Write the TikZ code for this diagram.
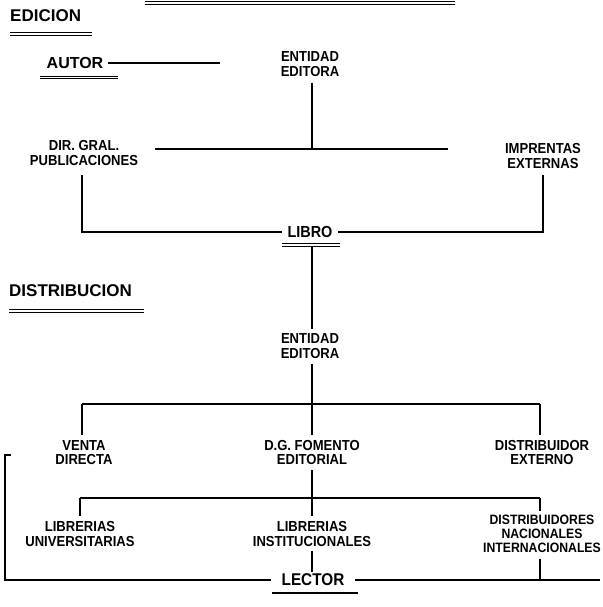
\documentclass[tikz,border=0pt]{standalone}
\usepackage{fontspec}
\setmainfont{Liberation Sans}[FakeStretch=0.9]
\newfontfamily\plainsans{Liberation Sans}
\begin{document}
\begin{tikzpicture}[x=1pt,y=-1pt,
  lab/.style={font=\fontsize{14.5}{14.5}\selectfont\bfseries, align=center, inner sep=0pt},
  lab3/.style={font=\fontsize{13.6}{14}\selectfont\bfseries, align=center, inner sep=0pt},
  big/.style={font=\plainsans\fontsize{17}{18}\selectfont\bfseries, inner sep=0pt},
  mid/.style={font=\fontsize{16}{17}\selectfont\bfseries, inner sep=0pt},
  ln/.style={line width=1.4pt},
  dbl/.style={line width=0.9pt, double distance=1.3pt},
  sgl/.style={line width=1.1pt}]
\useasboundingbox (0,0) rectangle (602,607);

% top cut underline
\coordinate (topA) at (145,3);
\coordinate (topB) at (455,3);
\draw[dbl] (topA) -- (topB);

% ---------------- EDICION ----------------
\node[big, anchor=west] (edicion) at (10,16) {EDICION};
\coordinate (eduA) at (10,34);
\coordinate (eduB) at (92,34);
\draw[dbl] (eduA) -- (eduB);

\node[font=\plainsans\fontsize{16}{17}\selectfont\bfseries, inner sep=0pt] (autor) at (75,63) {AUTOR};
\coordinate (autorEnd) at (220,63);
\draw[ln] ([xshift=5pt]autor.east) -- (autorEnd);
\coordinate (auuA) at (40,77.5);
\coordinate (auuB) at (118,77.5);
\draw[dbl] (auuA) -- (auuB);

\node[lab] (ent1) at (310,64) {ENTIDAD\\EDITORA};
\coordinate (j1) at (312,149);
\coordinate (j1L) at (155,149);
\coordinate (j1R) at (448,149);
\draw[ln] ([yshift=-6pt]ent1.south -| j1) -- (j1);
\draw[ln] (j1L) -- (j1R);

\node[lab] (dir) at (84,153) {DIR. GRAL.\\PUBLICACIONES};
\node[lab] (imp) at (543,156) {IMPRENTAS\\EXTERNAS};
\node[mid] (libro) at (310,232) {LIBRO};
\coordinate (dirD) at (82,175);
\coordinate (impD) at (543,175);
\draw[ln] (dirD) |- ([xshift=-5pt]libro.west);
\draw[ln] (impD) |- ([xshift=5pt]libro.east);
\coordinate (liuA) at (282,245);
\coordinate (liuB) at (340,245);
\draw[dbl] (liuA) -- (liuB);
\coordinate (libroU) at (312,246);

% ---------------- DISTRIBUCION ----------------
\node[big, anchor=west] (distrib) at (9,291) {DISTRIBUCION};
\coordinate (dsuA) at (9,311);
\coordinate (dsuB) at (144,311);
\draw[dbl] (dsuA) -- (dsuB);

\node[lab] (ent2) at (310,346) {ENTIDAD\\EDITORA};
\draw[ln] (libroU) -- ([yshift=4pt]ent2.north -| libroU);

\coordinate (j2) at (312,404);
\draw[ln] ([yshift=-5pt]ent2.south -| j2) -- (j2);

\node[lab] (venta) at (84,452.5) {VENTA\\DIRECTA};
\node[lab] (dg) at (312,452.5) {D.G. FOMENTO\\EDITORIAL};
\node[lab] (dext) at (542,452.5) {DISTRIBUIDOR\\EXTERNO};
\coordinate (j2L) at (82,404);
\coordinate (j2R) at (540,404);
\draw[ln] (j2L) -- (j2R);
\draw[ln] (j2L) -- ([yshift=5pt]venta.north -| j2L);
\draw[ln] (j2) -- ([yshift=5pt]dg.north);
\draw[ln] (j2R) -- ([yshift=5pt]dext.north -| j2R);

\coordinate (j3) at (312,498);
\draw[ln] ([yshift=-5pt]dg.south) -- (j3);

\node[lab] (lu) at (80,534) {LIBRERIAS\\UNIVERSITARIAS};
\node[lab] (li) at (312,534) {LIBRERIAS\\INSTITUCIONALES};
\node[lab3] (dn) at (542,534) {DISTRIBUIDORES\\NACIONALES\\INTERNACIONALES};
\coordinate (j3L) at (80,498);
\coordinate (j3R) at (540,498);
\draw[ln] (j3L) -- (j3R);
\draw[ln] (j3L) -- ([yshift=5pt]lu.north);
\draw[ln] (j3) -- ([yshift=5pt]li.north);
\draw[ln] (j3R) -- ([yshift=4pt]dn.north -| j3R);

\node[font=\fontsize{17}{18}\selectfont\bfseries, inner sep=0pt] (lector) at (313,580) {LECTOR};
\draw[ln] ([yshift=-4pt]li.south) -- ([yshift=2pt]lector.north -| li.south);
\coordinate (brT) at (11,455);
\coordinate (brC) at (5,455);
\coordinate (rEnd) at (600,580);
\draw[ln] (brT) -- (brC) |- ([xshift=-10pt]lector.west);
\draw[ln] ([xshift=10pt]lector.east) -- (rEnd);
\draw[ln] ([yshift=-6pt]dn.south -| j3R) -- (j3R |- lector);
\coordinate (leuA) at (272,593);
\coordinate (leuB) at (358,593);
\draw[sgl] (leuA) -- (leuB);
\end{tikzpicture}
\end{document}
